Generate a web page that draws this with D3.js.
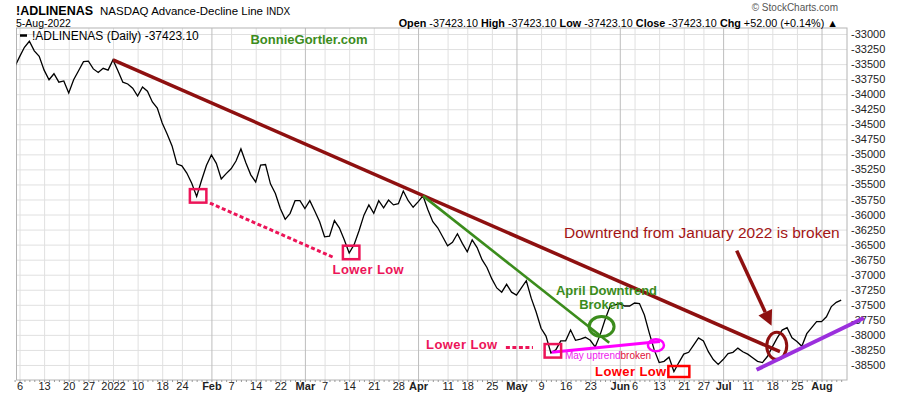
<!DOCTYPE html>
<html>
<head>
<meta charset="utf-8">
<script src="https://cdn.jsdelivr.net/npm/d3@7"></script>
<style>
  body { margin: 0; background: #fff; }
  text { font-family: "Liberation Sans", Arial, sans-serif; }
</style>
</head>
<body>
<svg id="chart" width="900" height="396"></svg>
<script>
// market holidays inside the window (no trading)
const holidays = ["2021-12-24", "2022-01-17", "2022-02-21", "2022-04-15", "2022-05-30", "2022-06-20", "2022-07-04"];
const fmt = d3.timeFormat("%Y-%m-%d");
const dates = d3.timeDay.range(new Date(2021, 11, 3), new Date(2022, 7, 6))
    .filter(d => d.getDay() !== 0 && d.getDay() !== 6 && !holidays.includes(fmt(d)))
    .map(fmt);

// NASDAQ advance-decline line, one close per trading day (Dec 3 2021 .. Aug 5 2022)
const adValues = [
    -33550, -33380, -33220, -33120, -33280, -33370,
    -33600, -33760, -33660, -33800, -33780,
    -33980, -33760, -33610, -33460,
    -33450, -33580, -33640, -33570, -33600,
    -33430, -33610, -33800, -33830, -33900,
    -34030, -33880, -33950, -34130, -34230,
    -34480, -34660, -34860, -35160,
    -35190, -35310, -35480, -35700, -35430,
    -35180, -35010, -35150, -35410, -35320,
    -35240, -35110, -34910, -35140, -35340,
    -35460, -35180, -35170, -35490, -35650,
    -35900, -36080, -35980, -35770,
    -35770, -35900, -35770, -35940, -36120,
    -36370, -36360, -36100, -36220, -36420,
    -36640, -36500, -36270, -36010, -35840,
    -35980, -35770, -35890, -35760, -35840,
    -35820, -35610, -35770, -35880, -35790,
    -35690, -35920, -36120, -36220, -36370,
    -36520, -36460, -36320, -36480,
    -36620, -36420, -36550, -36750, -36880,
    -37070, -37220, -37290, -37160, -37290,
    -37340, -37220, -37100, -37390, -37620,
    -37890, -38020, -38300, -38250, -38100,
    -38100, -37920, -38090, -38070, -38040,
    -38090, -38200, -38000, -37750, -37530,
    -37500, -37480, -37520, -37520,
    -37470, -37480, -37670, -37970, -38250,
    -38460, -38440, -38370, -38610, -38460,
    -38320, -38290, -38170, -38050,
    -38100, -38280, -38410, -38490, -38410,
    -38310, -38290, -38220, -38280,
    -38320, -38380, -38440, -38460, -38360,
    -38200, -38050, -37920, -37880, -38050,
    -38110, -38190, -37980, -37880, -37780,
    -37780, -37700, -37530, -37460, -37423.1
];

// x tick labels [date, label]
const xTicks = [
    ["2021-12-06", "6"], ["2021-12-13", "13"], ["2021-12-20", "20"], ["2021-12-27", "27"],
    ["2022-01-03", "2022"], ["2022-01-10", "10"], ["2022-01-18", "18"], ["2022-01-24", "24"],
    ["2022-02-01", "Feb"], ["2022-02-07", "7"], ["2022-02-14", "14"], ["2022-02-22", "22"],
    ["2022-03-01", "Mar"], ["2022-03-07", "7"], ["2022-03-14", "14"], ["2022-03-21", "21"], ["2022-03-28", "28"],
    ["2022-04-01", "Apr"], ["2022-04-11", "11"], ["2022-04-18", "18"], ["2022-04-25", "25"],
    ["2022-05-02", "May"], ["2022-05-09", "9"], ["2022-05-16", "16"], ["2022-05-23", "23"],
    ["2022-06-01", "Jun"], ["2022-06-06", "6"], ["2022-06-13", "13"], ["2022-06-21", "21"], ["2022-06-27", "27"],
    ["2022-07-01", "Jul"], ["2022-07-11", "11"], ["2022-07-18", "18"], ["2022-07-25", "25"],
    ["2022-08-01", "Aug"]
];
const yTicks = d3.range(-33000, -38501, -250);

// annotations, in [date, fraction of a trading day, value]
const janTrend = [["2022-01-03", 0, -33430], ["2022-07-20", -0.45, -38280]];
const aprTrend = [["2022-04-04", 0, -35690], ["2022-05-27", -0.15, -38130]];
const mayTrend = [["2022-05-11", 0.15, -38290], ["2022-06-13", 0.15, -38110]];
const julTrend = [["2022-07-13", -0.2, -38580], ["2022-08-05", 4.6, -37720]];
const lowDash1 = [["2022-02-01", -0.3, -35810], ["2022-03-09", -0.25, -36710]];
const lowDash2 = [["2022-04-28", -0.15, -38210], ["2022-05-05", 0.35, -38210]];
const lowBoxes = [["2022-01-27", 0.3, -35690], ["2022-03-14", 0.4, -36630], ["2022-05-11", 0.4, -38265]];
const junBox = ["2022-06-17", 0, -38609];
const brokenArrow = [["2022-07-07", -0.24, -36600], ["2022-07-18", -0.15, -37850]];

const svg = d3.select("#chart");
const plot = { l: 16.5, r: 847, t: 28, b: 380 };

const x = d3.scalePoint().domain(dates).range([14.6, 841.2]);
const y = d3.scaleLinear().domain([-38750, -32900]).range([plot.b, plot.t]);
const px = p => x(p[0]) + p[1] * x.step();
const py = p => y(p[2]);
const isMonth = l => isNaN(+l);

svg.append("rect").attr("width", 900).attr("height", 396).attr("fill", "#fff");

// horizontal grid
svg.append("g")
    .attr("transform", `translate(${plot.l},0)`)
    .call(d3.axisLeft(y).tickValues(yTicks).tickSize(-(plot.r - plot.l)).tickFormat(""))
    .call(g => g.select(".domain").remove())
    .selectAll("line").attr("stroke", "#e0e0e0");

// vertical grid
svg.append("g")
    .attr("transform", `translate(0,${plot.b})`)
    .call(d3.axisBottom(x).tickValues(xTicks.map(d => d[0])).tickSize(-(plot.b - plot.t)).tickFormat(""))
    .call(g => g.select(".domain").remove())
    .selectAll("line")
    .attr("stroke", (d, i) => isMonth(xTicks[i][1]) ? "#bdbdbd" : "#e0e0e0");

svg.append("rect")
    .attr("x", plot.l).attr("y", plot.t)
    .attr("width", plot.r - plot.l).attr("height", plot.b - plot.t)
    .attr("fill", "none").attr("stroke", "#b4b4b4");

// daily ticks under the plot
svg.append("g")
    .attr("transform", `translate(0,${plot.b})`)
    .call(d3.axisBottom(x).tickValues(dates).tickSize(2).tickFormat(""))
    .call(g => g.select(".domain").remove())
    .selectAll("line").attr("stroke", "#999");

// x axis labels
const xLabel = new Map(xTicks);
svg.append("g")
    .attr("transform", `translate(0,${plot.b})`)
    .call(d3.axisBottom(x).tickValues(xTicks.map(d => d[0])).tickSize(0).tickPadding(2)
        .tickFormat(d => xLabel.get(d)))
    .call(g => g.select(".domain").remove())
    .selectAll("text")
    .attr("font-family", "Liberation Sans, Arial, sans-serif")
    .attr("font-size", 11)
    .attr("fill", "#222")
    .attr("font-weight", d => isMonth(xLabel.get(d)) ? "bold" : "normal");

// y axis labels
svg.append("g")
    .attr("transform", `translate(${plot.r},0)`)
    .call(d3.axisRight(y).tickValues(yTicks).tickSize(0).tickPadding(4).tickFormat(d => String(d)))
    .call(g => g.select(".domain").remove())
    .selectAll("text")
    .attr("font-family", "Liberation Sans, Arial, sans-serif")
    .attr("font-size", 11)
    .attr("fill", "#222");

// the line
svg.append("clipPath").attr("id", "clip")
    .append("rect").attr("x", plot.l).attr("y", plot.t)
    .attr("width", plot.r - plot.l).attr("height", plot.b - plot.t);

const line = d3.line().x((d, i) => x(dates[i])).y(d => y(d));
svg.append("path")
    .datum(adValues)
    .attr("clip-path", "url(#clip)")
    .attr("d", line)
    .attr("fill", "none")
    .attr("stroke", "#000")
    .attr("stroke-width", 1.3);

// header
svg.append("text").attr("x", 16).attr("y", 15)
    .attr("font-size", 12.5).attr("font-weight", "bold").text("!ADLINENAS");
const sub = svg.append("text").attr("x", 100).attr("y", 15).attr("font-size", 11.5);
sub.append("tspan").text("NASDAQ Advance-Decline Line ");
sub.append("tspan").attr("font-size", 10).text("INDX");
svg.append("text").attr("x", 16).attr("y", 26.5).attr("font-size", 10.5).text("5-Aug-2022");
svg.append("text").attr("x", 838).attr("y", 11).attr("text-anchor", "end")
    .attr("font-size", 10).attr("fill", "#555").text("\u00A9 StockCharts.com");

const ohlc = svg.append("text").attr("x", 838).attr("y", 26.5)
    .attr("text-anchor", "end").attr("font-size", 10.8);
[["Open", " -37423.10 "], ["High", " -37423.10 "], ["Low", " -37423.10 "],
 ["Close", " -37423.10 "], ["Chg", " +52.00 (+0.14%) \u25B2"]].forEach(([k, v]) => {
    ohlc.append("tspan").attr("font-weight", "bold").text(k);
    ohlc.append("tspan").text(v);
});

// legend
svg.append("line").attr("x1", 20).attr("x2", 27).attr("y1", 35.5).attr("y2", 35.5)
    .attr("stroke", "#000").attr("stroke-width", 2.5);
svg.append("text").attr("x", 32).attr("y", 39.5).attr("font-size", 12)
    .text("!ADLINENAS (Daily) -37423.10");
svg.append("text").attr("x", 309).attr("y", 44).attr("text-anchor", "middle")
    .attr("font-size", 13).attr("font-weight", "bold").attr("fill", "#3c8c1c")
    .text("BonnieGortler.com");

// annotations
const ann = svg.append("g");
function seg(pts, color, width, dash) {
    ann.append("line")
        .attr("x1", px(pts[0])).attr("y1", py(pts[0]))
        .attr("x2", px(pts[1])).attr("y2", py(pts[1]))
        .attr("stroke", color).attr("stroke-width", width)
        .attr("stroke-dasharray", dash || null);
}
function ring(p, rx, ry, color, width) {
    ann.append("ellipse").attr("cx", px(p)).attr("cy", py(p))
        .attr("rx", rx).attr("ry", ry)
        .attr("fill", "none").attr("stroke", color).attr("stroke-width", width);
}
function box(p, w, h, color) {
    ann.append("rect").attr("x", px(p) - w / 2).attr("y", py(p) - h / 2)
        .attr("width", w).attr("height", h)
        .attr("fill", "none").attr("stroke", color).attr("stroke-width", 2.5);
}
function label(p, str, size, color, bold, anchor) {
    return ann.append("text").attr("x", px(p)).attr("y", py(p))
        .attr("dy", "0.35em")
        .attr("font-size", size).attr("fill", color)
        .attr("font-weight", bold ? "bold" : "normal")
        .attr("text-anchor", anchor || "middle")
        .text(str);
}

const pink = "#ec1458";
seg(janTrend, "#8e1010", 3.5);
seg(aprTrend, "#3b8c1c", 2.6);
seg(mayTrend, "#ff00ff", 3);
seg(lowDash1, pink, 3, "4 2.5");
seg(lowDash2, pink, 3, "4 2.5");
lowBoxes.forEach(b => box(b, 16.5, 13.5, pink));
box(junBox, 21, 11, "#ff0000");

ring(["2022-05-25", 0.3, -37862], 12.5, 10, "#3b8c1c", 3);
ring(["2022-06-10", 0.35, -38174], 8, 6, "#ff00ff", 2.5);
ring(["2022-07-19", -0.1, -38182], 10, 13.5, "#8e1010", 3);

label(["2022-03-18", -0.1, -36920], "Lower Low", 13, pink, true).attr("letter-spacing", 0.4);
label(["2022-04-14", -0.1, -38166], "Lower Low", 13, pink, true).attr("letter-spacing", 0.4);
label(["2022-06-03", 0.25, -38606], "Lower Low", 13, "#ff0000", true).attr("letter-spacing", 0.4);

label(["2022-05-26", 0.3, -37270], "April Downtrend", 13, "#3b8c1c", true);
label(["2022-05-25", 0.3, -37500], "Broken", 13, "#3b8c1c", true);

const mayTxt = label(["2022-05-13", 0.85, -38348], "", 10, "#ee22ee", false, "start");
mayTxt.append("tspan").text("May uptrend");
mayTxt.append("tspan").attr("fill", "#e0103a").text("broken");

label(["2022-05-13", 0.65, -36300], "Downtrend from January 2022 is broken", 15.5, "#a31515", false, "start");

// arrow pointing at the break
{
    const x1 = px(brokenArrow[0]), y1 = py(brokenArrow[0]);
    const x2 = px(brokenArrow[1]), y2 = py(brokenArrow[1]);
    const len = Math.hypot(x2 - x1, y2 - y1), ux = (x2 - x1) / len, uy = (y2 - y1) / len;
    const hl = 15, hw = 7.5;
    const bx = x2 - ux * hl, by = y2 - uy * hl;
    ann.append("line").attr("x1", x1).attr("y1", y1).attr("x2", bx).attr("y2", by)
        .attr("stroke", "#8e1010").attr("stroke-width", 3.5);
    ann.append("polygon")
        .attr("points", [[x2, y2], [bx - uy * hw, by + ux * hw], [bx + uy * hw, by - ux * hw]].map(p => p.join(",")).join(" "))
        .attr("fill", "#8e1010");
}

seg(julTrend, "#9b30dd", 4);
</script>
</body>
</html>
